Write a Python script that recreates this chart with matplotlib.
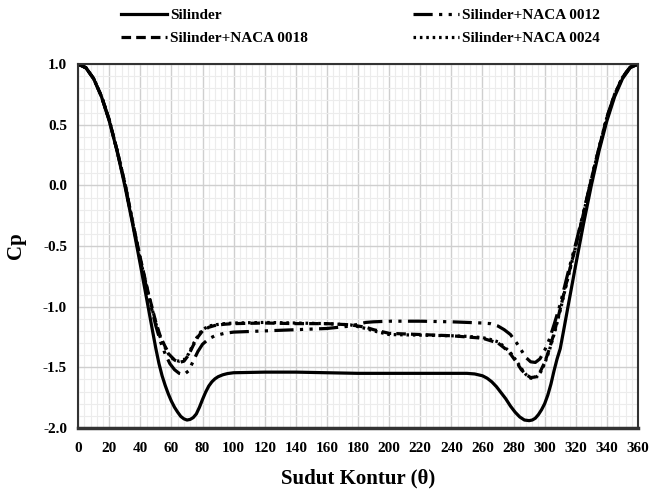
import matplotlib.pyplot as plt
from matplotlib.ticker import MultipleLocator

plt.rc('font', family='Liberation Serif', weight='bold')

# sudut kontur (derajat) dan Cp tiap konfigurasi
sudut_silinder = [0, 5, 10, 15, 20, 25, 30, 35, 40, 45, 48, 50, 52, 54, 56, 58, 60, 62,
                  64, 66, 68, 70, 72, 74, 76, 78, 80, 82, 84, 86, 88, 90, 93, 96, 100,
                  120, 140, 160, 180, 200, 220, 240, 250, 255, 260, 263, 266, 269, 272,
                  275, 278, 281, 284, 287, 290, 292, 294, 296, 298, 300, 302, 304, 306,
                  308, 310, 312, 315, 320, 325, 330, 335, 340, 345, 350, 355, 360]
cp_silinder = [1.0, 0.97, 0.879, 0.732, 0.532, 0.286, 0.0, -0.316, -0.653, -1.0, -1.21,
               -1.347, -1.47, -1.57, -1.65, -1.72, -1.78, -1.83, -1.87, -1.905, -1.925,
               -1.935, -1.93, -1.915, -1.885, -1.83, -1.765, -1.705, -1.655, -1.62,
               -1.595, -1.578, -1.562, -1.552, -1.545, -1.54, -1.54, -1.545, -1.55,
               -1.55, -1.55, -1.55, -1.55, -1.555, -1.57, -1.59, -1.62, -1.66, -1.71,
               -1.76, -1.82, -1.87, -1.91, -1.935, -1.94, -1.935, -1.92, -1.89, -1.85,
               -1.80, -1.73, -1.64, -1.53, -1.43, -1.347, -1.21, -1.0, -0.653, -0.316,
               0.0, 0.286, 0.532, 0.732, 0.879, 0.97, 1.0]

sudut_naca = [0, 5, 10, 15, 20, 25, 30, 35, 40, 45, 50, 53, 56, 59, 62, 65, 68, 71, 74,
              77, 80, 84, 88, 94, 100, 120, 140, 160, 175, 185, 190, 200, 220, 240, 250,
              260, 265, 270, 274, 278, 282, 285, 288, 291, 294, 297, 300, 303, 306, 310,
              315, 320, 325, 330, 335, 340, 345, 350, 355, 360]
cp_naca0012 = [1.0, 0.97, 0.88, 0.735, 0.54, 0.29, 0.02, -0.30, -0.62, -0.90, -1.16,
               -1.29, -1.39, -1.47, -1.52, -1.55, -1.56, -1.53, -1.45, -1.37, -1.31,
               -1.265, -1.24, -1.22, -1.21, -1.20, -1.19, -1.18, -1.16, -1.13, -1.125,
               -1.12, -1.12, -1.125, -1.13, -1.135, -1.14, -1.16, -1.19, -1.23, -1.30,
               -1.36, -1.42, -1.455, -1.46, -1.43, -1.36, -1.27, -1.15, -0.98, -0.72,
               -0.48, -0.22, 0.05, 0.31, 0.56, 0.75, 0.89, 0.975, 1.0]
cp_naca0018 = [1.0, 0.97, 0.88, 0.735, 0.54, 0.29, 0.02, -0.30, -0.60, -0.88, -1.13,
               -1.25, -1.33, -1.40, -1.44, -1.46, -1.45, -1.40, -1.32, -1.25, -1.20,
               -1.17, -1.155, -1.145, -1.14, -1.135, -1.14, -1.14, -1.15, -1.17, -1.19,
               -1.22, -1.23, -1.24, -1.25, -1.26, -1.28, -1.30, -1.34, -1.39, -1.46,
               -1.52, -1.56, -1.585, -1.58, -1.54, -1.46, -1.35, -1.22, -1.02, -0.75,
               -0.50, -0.23, 0.05, 0.31, 0.56, 0.75, 0.89, 0.975, 1.0]
cp_naca0024 = [1.0, 0.97, 0.88, 0.735, 0.54, 0.29, 0.02, -0.30, -0.61, -0.89, -1.14,
               -1.26, -1.34, -1.41, -1.44, -1.45, -1.44, -1.39, -1.31, -1.24, -1.19,
               -1.16, -1.15, -1.14, -1.135, -1.13, -1.135, -1.14, -1.15, -1.18, -1.20,
               -1.23, -1.235, -1.24, -1.245, -1.255, -1.27, -1.29, -1.33, -1.38, -1.45,
               -1.51, -1.56, -1.59, -1.59, -1.55, -1.47, -1.36, -1.23, -1.03, -0.76,
               -0.50, -0.23, 0.05, 0.31, 0.56, 0.75, 0.89, 0.975, 1.0]

fig = plt.figure(figsize=(6.51, 4.97), dpi=100)
ax = fig.add_axes([0.12, 0.139, 0.86, 0.732])

ax.plot(sudut_silinder, cp_silinder, color='black', lw=2.3, label='Silinder')
ax.plot(sudut_naca, cp_naca0018, color='black', lw=2.3, ls=(0, (3, 1.6)),
        label='Silinder+NACA 0018')
ax.plot(sudut_naca, cp_naca0012, color='black', lw=2.3, ls=(0, (6, 2, 1, 2, 1, 2)),
        label='Silinder+NACA 0012')
ax.plot(sudut_naca, cp_naca0024, color='black', lw=2.3, ls=(0, (0.8, 1.2)),
        label='Silinder+NACA 0024')

ax.set_xlim(0, 360)
ax.set_ylim(-2.0, 1.0)
ax.xaxis.set_major_locator(MultipleLocator(20))
ax.xaxis.set_minor_locator(MultipleLocator(4))
ax.yaxis.set_major_locator(MultipleLocator(0.5))
ax.yaxis.set_minor_locator(MultipleLocator(0.1))
ax.yaxis.set_major_formatter(lambda v, p: f'{v:.1f}')
ax.grid(which='major', color='#cfcfcf', lw=1.0)
ax.grid(which='minor', color='#ececec', lw=0.8)
ax.set_axisbelow(True)
ax.tick_params(which='both', length=0, labelsize=11)
ax.tick_params(axis='x', pad=10)
ax.tick_params(axis='y', pad=8)
for s in ax.spines.values():
    s.set_color('#333333')
    s.set_linewidth(1.5)
ax.spines['bottom'].set_linewidth(2.5)

ax.set_xlabel('Sudut Kontur (θ)', fontsize=15, fontweight='bold', labelpad=10)
ax.set_ylabel('Cp', fontsize=15, fontweight='bold', labelpad=12)

fig.legend(loc='upper left', bbox_to_anchor=(0.165, 1.01), ncol=2, frameon=False,
           fontsize=11, handlelength=3.0, handletextpad=0.2, columnspacing=6.9,
           labelspacing=0.6)

fig.savefig('out.png', dpi=100)
